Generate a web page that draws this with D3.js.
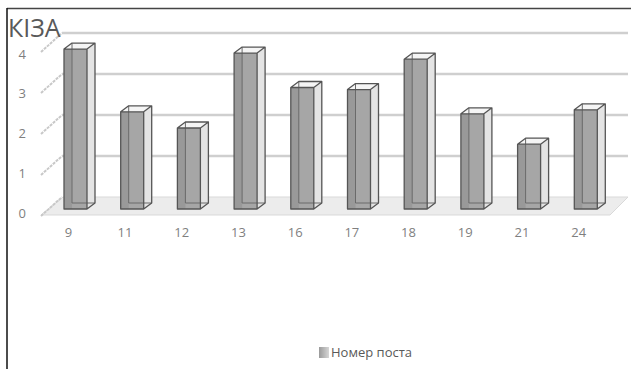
<!DOCTYPE html>
<html>
<head>
<meta charset="utf-8">
<script src="https://cdn.jsdelivr.net/npm/d3@7"></script>
<style>
  body { margin: 0; background: #fff; }
  text { font-family: "Open Sans", "Noto Sans", sans-serif; }
</style>
</head>
<body>
<svg id="chart"></svg>
<script>
var categories = ['9', '11', '12', '13', '16', '17', '18', '19', '21', '24'];
var values = [3.95, 2.4, 2.0, 3.85, 3.0, 2.95, 3.7, 2.35, 1.6, 2.45];
var y_ticks = [0, 1, 2, 3, 4];
var title_text = 'КІЗА';
var legend_text = 'Номер поста';

var width = 631, height = 369;
var depth_dx = 8, depth_dy = -6;   // bar depth
var floor_dx = 22, floor_dy = -18; // wall depth

var svg = d3.select('#chart').attr('width', width).attr('height', height);

var x = d3.scaleBand().domain(categories).range([40, 607]);
var y_back = d3.scaleLinear().domain([0, 4]).range([197, 33]);
var y_bar = d3.scaleLinear().domain([0, 4]).range([209, 47]);
var y_lab = d3.scaleLinear().domain([0, 4]).range([213, 54]);

// floor
var f0 = 215;
svg.append('path')
  .attr('d', 'M41,' + f0 + 'L610,' + f0 + 'L628,' + (f0 + floor_dy) + 'L63,' + (f0 + floor_dy) + 'Z')
  .style('fill', '#ececec')
  .style('stroke', '#d9d9d9')
  .style('stroke-width', 1);

// back wall gridlines
svg.selectAll('.grid')
  .data(y_ticks.filter(t => t > 0))
  .enter()
  .append('line')
    .attr('class', 'grid')
    .attr('x1', 62)
    .attr('x2', 628)
    .attr('y1', d => y_back(d))
    .attr('y2', d => y_back(d))
    .style('stroke', '#cfcfcf')
    .style('stroke-width', 2.5);

// side wall ticks
svg.selectAll('.side')
  .data(y_ticks)
  .enter()
  .append('line')
    .attr('class', 'side')
    .attr('x1', 41)
    .attr('x2', 62)
    .attr('y1', d => y_back(d) + 19)
    .attr('y2', d => y_back(d))
    .style('stroke', '#c8c8c8')
    .style('stroke-width', 2)
    .style('stroke-dasharray', '3,1');

// bars
var bars = svg.selectAll('.bar')
  .data(categories.map((c, i) => ({cat: c, v: values[i]})))
  .enter()
  .append('g')
    .attr('class', 'bar');

bars.each(function(d) {
  var g = d3.select(this);
  var fx = x(d.cat) + 24, w = 23;
  var top = y_bar(d.v), bot = y_bar(0);
  var dx = depth_dx, dy = depth_dy;
  // side face
  g.append('path')
    .attr('d', 'M' + (fx + w) + ',' + top + 'L' + (fx + w + dx) + ',' + (top + dy) +
               'L' + (fx + w + dx) + ',' + (bot + dy) + 'L' + (fx + w) + ',' + bot + 'Z')
    .style('fill', '#e4e4e4');
  // top face
  g.append('path')
    .attr('d', 'M' + fx + ',' + top + 'L' + (fx + dx) + ',' + (top + dy) +
               'L' + (fx + w + dx) + ',' + (top + dy) + 'L' + (fx + w) + ',' + top + 'Z')
    .style('fill', '#f5f5f5');
  // front face
  g.append('rect')
    .attr('x', fx).attr('y', top).attr('width', w).attr('height', bot - top)
    .style('fill', '#a6a6a6');
  g.append('rect')
    .attr('x', fx).attr('y', top).attr('width', dx).attr('height', bot - top)
    .style('fill', '#000').style('opacity', 0.08);
  // hidden back edges showing through
  g.append('path')
    .attr('d', 'M' + (fx + dx) + ',' + (top + dy) + 'L' + (fx + dx) + ',' + (bot + dy) +
               'L' + (fx + w + dx) + ',' + (bot + dy))
    .style('fill', 'none')
    .style('stroke', '#6a6a6a')
    .style('stroke-width', 1);
  // outline
  g.append('path')
    .attr('d', 'M' + fx + ',' + bot + 'L' + fx + ',' + top + 'L' + (fx + dx) + ',' + (top + dy) +
               'L' + (fx + w + dx) + ',' + (top + dy) + 'L' + (fx + w + dx) + ',' + (bot + dy) +
               'L' + (fx + w) + ',' + bot + 'Z' +
               'M' + fx + ',' + top + 'L' + (fx + w) + ',' + top + 'L' + (fx + w + dx) + ',' + (top + dy) +
               'M' + (fx + w) + ',' + top + 'L' + (fx + w) + ',' + bot)
    .style('fill', 'none')
    .style('stroke', '#555')
    .style('stroke-width', 1.3)
    .style('stroke-linejoin', 'round');
});

// y axis labels
var yax = svg.append('g')
  .attr('transform', 'translate(26,0)')
  .call(d3.axisLeft(y_lab).tickValues(y_ticks).tickFormat(d3.format('d')).tickSize(0).tickPadding(0));
yax.select('.domain').remove();
yax.selectAll('text').style('font-size', '13px').style('fill', '#7f7f7f')
  .style('font-family', '"Open Sans", sans-serif');

// x axis labels
var xax = svg.append('g')
  .attr('transform', 'translate(0,228)')
  .call(d3.axisBottom(x).tickSize(0).tickPadding(0));
xax.select('.domain').remove();
xax.selectAll('text').style('font-size', '13px').style('fill', '#7f7f7f')
  .style('font-family', '"Open Sans", sans-serif');

// title
svg.append('text')
  .attr('x', 8)
  .attr('y', 37)
  .text(title_text)
  .style('font-size', '25px')
  .style('fill', '#595959');

// legend
var grad = svg.append('defs').append('linearGradient').attr('id', 'lg');
grad.append('stop').attr('offset', '0%').attr('stop-color', '#9a9a9a');
grad.append('stop').attr('offset', '100%').attr('stop-color', '#d6d6d6');
svg.append('rect')
  .attr('x', 319).attr('y', 347).attr('width', 10).attr('height', 11)
  .style('fill', 'url(#lg)');
svg.append('text')
  .attr('x', 331)
  .attr('y', 357)
  .text(legend_text)
  .style('font-size', '13px')
  .style('fill', '#595959');

// frame
svg.append('line').attr('x1', 7).attr('x2', 631).attr('y1', 8.5).attr('y2', 8.5)
  .style('stroke', '#444').style('stroke-width', 1.5);
svg.append('line').attr('x1', 7).attr('x2', 7).attr('y1', 8).attr('y2', 369)
  .style('stroke', '#111').style('stroke-width', 1.5);
</script>
</body>
</html>
